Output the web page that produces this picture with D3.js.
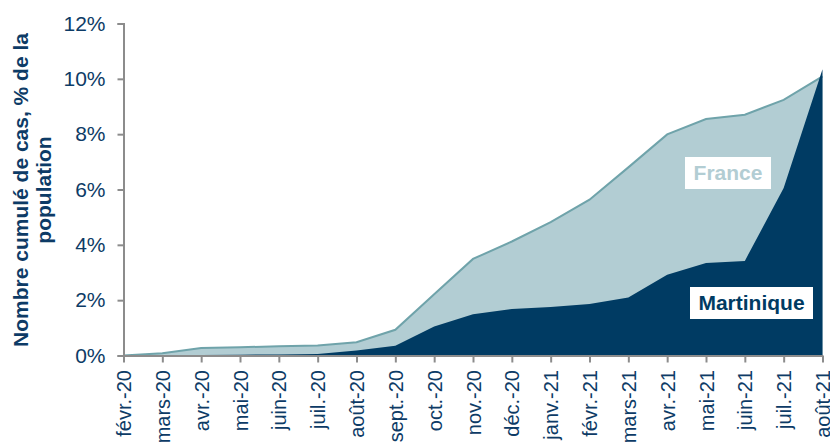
<!DOCTYPE html>
<html><head><meta charset="utf-8">
<script src="https://cdn.jsdelivr.net/npm/d3@7"></script>
<style>body{margin:0;background:#fff;overflow:hidden}svg{display:block}</style>
</head><body>
<svg id="c" width="830" height="448"></svg>
<script>
const months = ["févr.-20","mars-20","avr.-20","mai-20","juin-20","juil.-20","août-20","sept.-20","oct.-20","nov.-20","déc.-20","janv.-21","févr.-21","mars-21","avr.-21","mai-21","juin-21","juil.-21","août-21"];
const france = [0,0.08,0.27,0.30,0.33,0.36,0.48,0.93,2.21,3.49,4.12,4.82,5.63,6.80,7.99,8.55,8.70,9.24,10.09];
const martinique = [0,0.01,0.02,0.03,0.04,0.05,0.18,0.35,1.05,1.49,1.68,1.75,1.86,2.10,2.92,3.34,3.42,6.05,10.35];
const yTicks = [0,2,4,6,8,10,12];
const yTitle = ["Nombre cumulé de cas, % de la","population"];

const svg = d3.select("#c");
const x = d3.scalePoint().domain(months).range([123.5, 822.5]);
const y = d3.scaleLinear().domain([0,12]).range([355.5, 23.5]);
const txt = "#0d3b66";
const font = "Liberation Sans, Arial, sans-serif";

const area = (vals) => d3.area().x((d,i)=>x(months[i])).y0(y(0)).y1(d=>y(d))(vals);
const line = (vals) => d3.line().x((d,i)=>x(months[i])).y(d=>y(d))(vals);

svg.append("path").attr("d", area(france)).attr("fill","#b2cdd3");
svg.append("path").attr("d", line(france)).attr("fill","none").attr("stroke","#6fa3aa").attr("stroke-width",2);
svg.append("path").attr("d", area(martinique)).attr("fill","#003b63");

// axes
const ya = svg.append("g").attr("transform","translate(123.5,0)")
  .call(d3.axisLeft(y).tickValues(yTicks).tickFormat(d=>d+"%").tickSize(6).tickPadding(12));
ya.select(".domain").attr("stroke","#8c8c8c").attr("stroke-width",2);
ya.selectAll(".tick line").attr("stroke","#8c8c8c").attr("stroke-width",2);
ya.selectAll("text").attr("fill",txt).attr("font-family",font).attr("font-size",21);

const xa = svg.append("g").attr("transform","translate(0,355.5)")
  .call(d3.axisBottom(x).tickSize(7).tickSizeOuter(0));
xa.select(".domain").attr("stroke","#8c8c8c").attr("stroke-width",2);
xa.selectAll(".tick line").attr("stroke","#8c8c8c").attr("stroke-width",2);
xa.selectAll("text").attr("fill",txt).attr("font-family",font).attr("font-size",20)
  .attr("transform","rotate(-90)").attr("text-anchor","end").attr("dy","0.35em").attr("x",-14.5).attr("y",0);

// y title
const yt = svg.append("text").attr("transform","translate(28,190) rotate(-90)")
  .attr("text-anchor","middle").attr("fill",txt).attr("font-family",font).attr("font-size",21).attr("font-weight","bold");
yt.append("tspan").attr("x",0).attr("dy",0).text(yTitle[0]);
yt.append("tspan").attr("x",0).attr("dy",23).text(yTitle[1]);

// labels
svg.append("rect").attr("x",685).attr("y",157).attr("width",86).attr("height",32).attr("fill","#fff");
svg.append("text").attr("x",728).attr("y",173).attr("dy","0.35em").attr("text-anchor","middle")
  .attr("fill","#b2cdd3").attr("font-family",font).attr("font-size",21).attr("font-weight","bold").text("France");
svg.append("rect").attr("x",690).attr("y",287).attr("width",123).attr("height",32).attr("fill","#fff");
svg.append("text").attr("x",751.5).attr("y",303).attr("dy","0.35em").attr("text-anchor","middle")
  .attr("fill","#003b63").attr("font-family",font).attr("font-size",21).attr("font-weight","bold").text("Martinique");
</script>
</body></html>
